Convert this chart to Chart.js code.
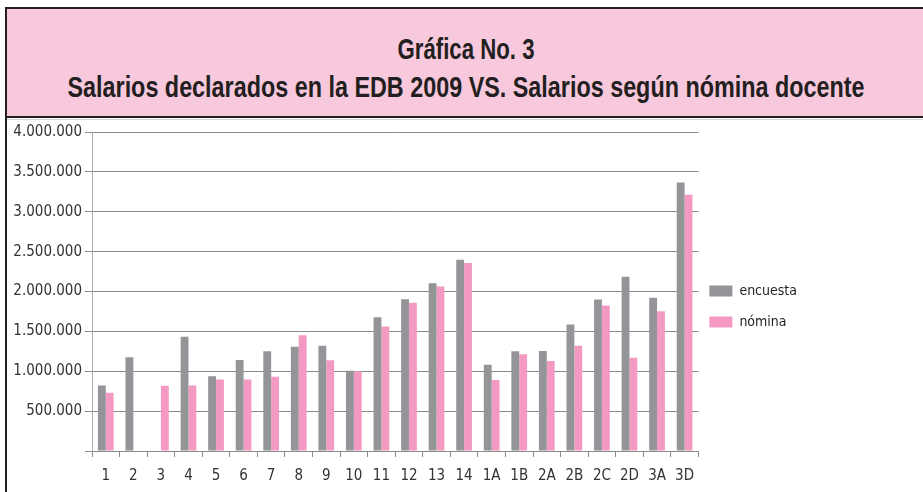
<!DOCTYPE html>
<html>
<head>
<meta charset="utf-8">
<script src="https://cdn.jsdelivr.net/npm/chart.js@4/dist/chart.umd.min.js"></script>
<style>
  html, body { margin: 0; padding: 0; background: #fff; width: 923px; height: 492px; overflow: hidden; }
  #title {
    position: absolute; left: 5px; top: 7px; width: 930px; height: 107px;
    background: #f8c8dc; border: 2px solid #231f20; box-sizing: content-box;
    font-family: 'Liberation Sans', Arial, sans-serif;
    font-weight: bold; color: #231f20; font-size: 30px; line-height: 34px;
  }
  #title .ln { position: absolute; left: 0; width: 918px; height: 34px; white-space: nowrap; }
  #title .ln span { position: absolute; left: 50%; top: 0; transform-origin: 50% 50%; white-space: nowrap; }
  #leftline { position: absolute; left: 5px; top: 118px; width: 2px; height: 380px; background: #231f20; }
  #topline { position: absolute; left: 7px; top: 119px; width: 920px; height: 1px; background: #d8d8d8; }
  #wrap { position: absolute; left: 7px; top: 119px; width: 916px; height: 376px; }
</style>
</head>
<body>
<div id="title">
  <div class="ln" style="top:23px"><span id="t1" data-w="137">Gráfica No. 3</span></div>
  <div class="ln" style="top:61px"><span id="t2" data-w="797">Salarios declarados en la EDB 2009 VS. Salarios según nómina docente</span></div>
</div>
<div id="leftline"></div>
<div id="topline"></div>
<div id="wrap"><canvas id="c" width="916" height="376"></canvas></div>
<script>
const categories = ['1','2','3','4','5','6','7','8','9','10','11','12','13','14','1A','1B','2A','2B','2C','2D','3A','3D'];
const encuesta = [820000,1175000,null,1434000,936000,1141000,1250000,1308000,1321000,1006000,1678000,1904000,2105000,2399000,1082000,1250000,1254000,1585000,1900000,2185000,1921000,3367000];
const nomina   = [730000,null,818000,820000,898000,898000,931000,1451000,1137000,1000000,1560000,1858000,2063000,2357000,889000,1212000,1128000,1321000,1824000,1170000,1753000,3212000];
const seriesNames = ['encuesta','nómina'];
const yMax = 4000000, yStep = 500000;

// condense title lines to match the narrow display face
['t1','t2'].forEach(id => {
  const el = document.getElementById(id);
  const w = el.getBoundingClientRect().width;
  el.style.transform = 'translateX(-50%) scaleX(' + (parseFloat(el.dataset.w) / w) + ')';
});

const FONT = "'DejaVu Sans Condensed', 'Liberation Sans', sans-serif";
function fmt(v){ return String(Math.round(v)).replace(/\B(?=(\d{3})+(?!\d))/g, '.'); }

const legendNudge = {
  id: 'legendNudge',
  afterLayout(chart) {
    const lg = chart.legend;
    if (!lg) return;
    lg.left -= 6; lg.right -= 6;
    lg.top -= 7; lg.bottom -= 7;
  }
};

new Chart(document.getElementById('c'), {
  type: 'bar',
  data: {
    labels: categories,
    datasets: [
      { label: seriesNames[0], data: encuesta, backgroundColor: '#939598', borderWidth: 0 },
      { label: seriesNames[1], data: nomina, backgroundColor: '#f49ac2', borderWidth: 0 }
    ]
  },
  plugins: [legendNudge],
  options: {
    responsive: false,
    animation: false,
    devicePixelRatio: 1,
    layout: { padding: { left: 0, right: 110, top: 13, bottom: 0 } },
    datasets: { bar: { categoryPercentage: 0.57, barPercentage: 1.0 } },
    plugins: {
      title: { display: false },
      tooltip: { enabled: false },
      legend: {
        position: 'right',
        align: 'center',
        labels: {
          boxWidth: 23, boxHeight: 11, padding: 17,
          color: '#231f20',
          font: { family: FONT, size: 14 }
        }
      }
    },
    scales: {
      x: {
        offset: true,
        grid: { offset: true, drawOnChartArea: false, drawTicks: true, tickLength: 6, color: '#8a8a8a' },
        border: { color: '#8a8a8a' },
        ticks: { color: '#333', font: { family: FONT, size: 15 }, padding: 10, maxRotation: 0, autoSkip: false }
      },
      y: {
        min: 0, max: yMax,
        afterFit(scale) { scale.width = 85; },
        grid: { color: '#8a8a8a', tickLength: 7, drawTicks: true },
        border: { color: '#a8a8a8' },
        ticks: {
          stepSize: yStep, color: '#333', padding: 3,
          font: { family: FONT, size: 15 },
          callback: (v) => v === 0 ? '' : fmt(v)
        }
      }
    }
  }
});
</script>
</body>
</html>
